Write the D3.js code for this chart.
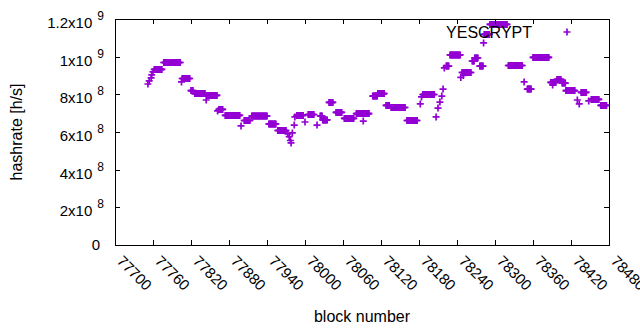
<!DOCTYPE html>
<html>
<head>
<meta charset="utf-8">
<script src="https://cdn.jsdelivr.net/npm/d3@7/dist/d3.min.js"></script>
<style>
	body { margin: 0; background: #fff; }
	text { font-family: "Liberation Sans", Arial, sans-serif; fill: #000; }
</style>
</head>
<body>
<svg width="640" height="330"></svg>
<script>
// runs of blocks that share the same hashrate (start block, end block, h/s)
var runStart = [77752,77754,77757,77758,77760,77762,77777,77805,77806,77820,77826,77844,77845,77862,77864,77874,77899,77904,77916,77943,
	77957,77973,77975,77977,77978,77980,77983,77984,77987,78000,78005,78019,78024,78028,78038,78049,78062,78081,78092,78107,
	78115,78128,78136,78161,78182,78184,78186,78207,78210,78213,78216,78218,78220,78223,78229,78246,78248,78250,78264,78268,
	78276,78282,78283,78292,78321,78346,78351,78360,78388,78391,78398,78406,78412,78430,78433,78436,78448,78452,78467];
var runEnd = [77752,77754,77757,77758,77760,77774,77803,77805,77818,77823,77842,77844,77861,77862,77870,77897,77899,77913,77940,77954,
	77970,77973,77975,77977,77978,77980,77983,77984,77997,78000,78014,78019,78027,78035,78044,78058,78077,78101,78092,78114,
	78125,78133,78158,78177,78182,78184,78204,78207,78210,78213,78216,78218,78220,78227,78245,78246,78262,78250,78267,78273,
	78281,78282,78291,78319,78343,78346,78357,78385,78396,78391,78404,78411,78426,78430,78433,78444,78448,78464,78476];
var runRate = [855e6,871e6,887e6,903e6,919e6,932e6,969e6,866e6,884e6,820e6,804e6,770e6,794e6,712e6,720e6,688e6,632e6,661e6,685e6,643e6,
	608e6,590e6,575e6,555e6,542e6,595e6,637e6,680e6,688e6,653e6,693e6,637e6,685e6,664e6,757e6,704e6,672e6,698e6,658e6,791e6,
	804e6,741e6,730e6,661e6,749e6,786e6,799e6,680e6,727e6,759e6,791e6,828e6,940e6,950e6,1009e6,890e6,916e6,900e6,977e6,993e6,
	950e6,1073e6,1118e6,1171e6,953e6,866e6,828e6,996e6,863e6,850e6,879e6,860e6,820e6,770e6,749e6,810e6,765e6,773e6,741e6];

var xTicks = [77700,77760,77820,77880,77940,78000,78060,78120,78180,78240,78300,78360,78420,78480];
var yTicks = [0,2e8,4e8,6e8,8e8,1e9,1.2e9];
var yTickLabels = [["0",""],["2x10","8"],["4x10","8"],["6x10","8"],["8x10","8"],["1x10","9"],["1.2x10","9"]];
var seriesName = "YESCRYPT";

var svg = d3.select("svg"),
	margin = {left: 115, right: 31, top: 19, bottom: 85},
	width = +svg.attr("width") - margin.left - margin.right,
	height = +svg.attr("height") - margin.top - margin.bottom,
	color = "#9400d3";

var x = d3.scaleLinear().domain([77700, 78480]).range([0, width]);
var y = d3.scaleLinear().domain([0, 1.2e9]).range([height, 0]);

// one point per block
var points = [];
for (var i = 0; i < runStart.length; i++) {
	for (var b = runStart[i]; b <= runEnd[i]; b++) {
		points.push({block: b, rate: runRate[i]});
	}
}

var g = svg.append("g").attr("transform", "translate(" + margin.left + "," + margin.top + ")");

var plus = "M-3.5,0H3.5M0,-3.5V3.5";

g.append("g").selectAll("path")
	.data(points)
	.enter().append("path")
	.attr("d", plus)
	.attr("transform", function(d) { return "translate(" + x(d.block) + "," + y(d.rate) + ")"; })
	.attr("fill", "none")
	.attr("stroke", color)
	.attr("stroke-width", 1.7);

// ticks on all four sides, pointing inward
var tickLen = 5;
var ticks = g.append("g").attr("stroke", "#000").attr("stroke-width", 1);
xTicks.forEach(function(t) {
	var px = Math.round(x(t)) + 0.5;
	ticks.append("line").attr("x1", px).attr("x2", px).attr("y1", height).attr("y2", height - tickLen);
	ticks.append("line").attr("x1", px).attr("x2", px).attr("y1", 0).attr("y2", tickLen);
});
yTicks.forEach(function(t) {
	var py = Math.round(y(t)) + 0.5;
	ticks.append("line").attr("x1", 0).attr("x2", tickLen).attr("y1", py).attr("y2", py);
	ticks.append("line").attr("x1", width).attr("x2", width - tickLen).attr("y1", py).attr("y2", py);
});

g.append("rect")
	.attr("x", 0.5).attr("y", 0.5)
	.attr("width", width).attr("height", height)
	.attr("fill", "none").attr("stroke", "#000").attr("stroke-width", 1);

// x tick labels, rotated
g.append("g").selectAll("text")
	.data(xTicks)
	.enter().append("text")
	.attr("transform", function(d) { return "translate(" + (x(d) + 1) + "," + (height + 17) + ") rotate(45)"; })
	.attr("text-anchor", "start")
	.style("font-size", "15px")
	.text(function(d) { return d; });

// y tick labels with superscript exponent
yTicks.forEach(function(t, i) {
	var lab = yTickLabels[i];
	var txt = g.append("text")
		.attr("text-anchor", "end")
		.style("font-size", "15px");
	if (lab[1] === "") {
		txt.attr("x", -15).attr("y", y(t) + 5).text(lab[0]);
	} else {
		txt.attr("x", -11).attr("y", y(t) + 9);
		txt.append("tspan").text(lab[0]);
		txt.append("tspan").attr("dx", 5).attr("dy", -8).style("font-size", "12px").text(lab[1]);
	}
});

svg.append("text")
	.attr("transform", "translate(22," + (margin.top + height / 2) + ") rotate(-90)")
	.attr("text-anchor", "middle")
	.style("font-size", "16px")
	.text("hashrate [h/s]");

svg.append("text")
	.attr("x", margin.left + width / 2)
	.attr("y", 322)
	.attr("text-anchor", "middle")
	.style("font-size", "16px")
	.text("block number");

// legend
svg.append("text")
	.attr("x", 532).attr("y", 38)
	.attr("text-anchor", "end")
	.style("font-size", "16px")
	.text(seriesName);
svg.append("path")
	.attr("d", plus)
	.attr("transform", "translate(567,32)")
	.attr("fill", "none")
	.attr("stroke", color)
	.attr("stroke-width", 1.7);
</script>
</body>
</html>
